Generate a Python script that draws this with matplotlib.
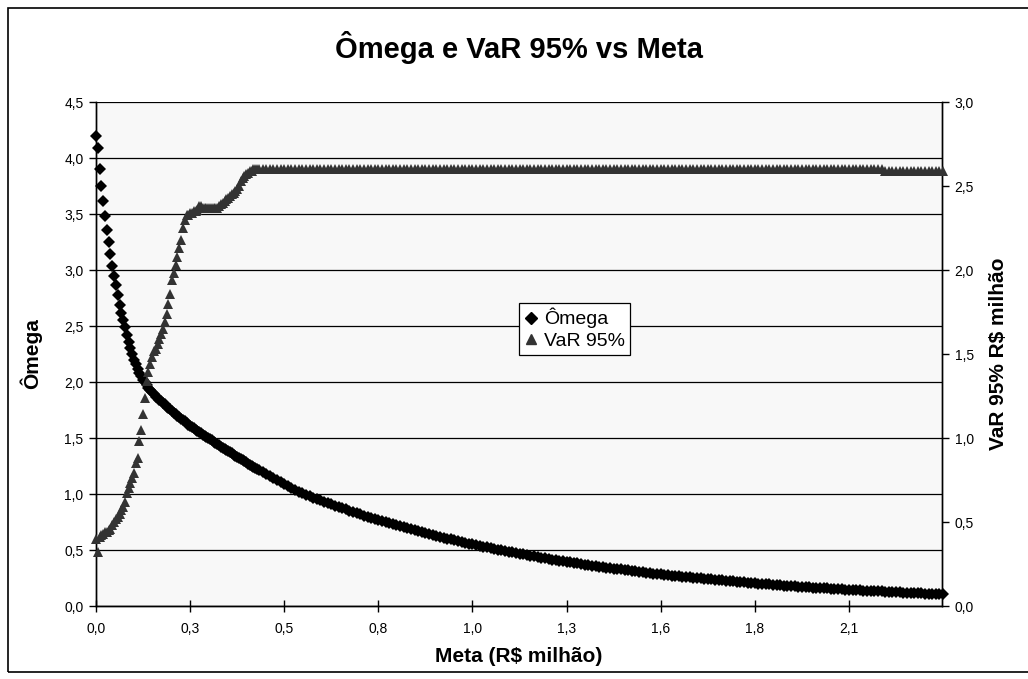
import numpy as np
import matplotlib
matplotlib.use("Agg")
import matplotlib.pyplot as plt
from matplotlib.patches import Rectangle
from matplotlib.lines import Line2D
from matplotlib.ticker import FuncFormatter

plt.rcParams["font.family"] = ["Liberation Sans", "DejaVu Sans"]

# Meta (R$ milhão): step 0.005 up to 0.445, then 0.01 up to 2.34
meta = np.round(np.concatenate([np.arange(90) * 0.005, 0.45 + np.arange(190) * 0.01]), 3)

# Omega
omega = [
    4.20, 4.09, 3.90, 3.75, 3.62, 3.48, 3.36, 3.25, 3.14, 3.04,
    2.95, 2.87, 2.78, 2.69, 2.62, 2.55, 2.49, 2.42, 2.36, 2.30,
    2.25, 2.20, 2.16, 2.12, 2.08, 2.05, 2.02, 2.00, 1.97, 1.95,
    1.93, 1.91, 1.89, 1.87, 1.86, 1.84, 1.83, 1.81, 1.80, 1.78,
    1.77, 1.755, 1.74, 1.725, 1.71, 1.70, 1.685, 1.67, 1.66, 1.65,
    1.635, 1.62, 1.61, 1.60, 1.59, 1.575, 1.565, 1.555, 1.545, 1.53,
    1.52, 1.51, 1.50, 1.49, 1.478, 1.467, 1.456, 1.445, 1.435, 1.424,
    1.414, 1.403, 1.393, 1.382, 1.372, 1.362, 1.352, 1.342, 1.332, 1.322,
    1.312, 1.302, 1.292, 1.282, 1.272, 1.263, 1.253, 1.244, 1.234, 1.225,
    # from 0.45 on, step 0.01
    1.215, 1.196, 1.178, 1.160, 1.142, 1.124, 1.106, 1.089, 1.072, 1.055,
    1.038, 1.021,
    1.005, 0.992, 0.980, 0.967, 0.955, 0.943, 0.931, 0.919, 0.907, 0.896,
    0.884, 0.873, 0.862, 0.851, 0.840, 0.829, 0.819, 0.808, 0.798, 0.788,
    0.778, 0.768, 0.758, 0.749, 0.739, 0.730, 0.721, 0.711, 0.702, 0.693,
    0.685, 0.676, 0.667, 0.659, 0.650, 0.642, 0.634, 0.626, 0.618, 0.610,
    0.602, 0.595, 0.587, 0.580, 0.572, 0.565, 0.558, 0.551, 0.544, 0.537,
    0.530, 0.523, 0.517, 0.510, 0.503, 0.497, 0.491, 0.484, 0.478, 0.472,
    0.466, 0.460, 0.454, 0.449, 0.443, 0.437, 0.432, 0.426, 0.421, 0.415,
    0.410, 0.405, 0.400, 0.395, 0.390, 0.385, 0.380, 0.375, 0.370, 0.366,
    0.361, 0.356, 0.352, 0.347, 0.343, 0.339, 0.334, 0.330, 0.326, 0.322,
    0.318, 0.314, 0.310, 0.306, 0.302, 0.298, 0.294, 0.290, 0.287, 0.283,
    0.279, 0.276, 0.272, 0.269, 0.265, 0.262, 0.259, 0.255, 0.252, 0.249,
    0.246, 0.243, 0.240, 0.237, 0.234, 0.231, 0.228, 0.225, 0.222, 0.219,
    0.216, 0.214, 0.211, 0.208, 0.206, 0.203, 0.200, 0.198, 0.195, 0.193,
    0.190, 0.188, 0.185, 0.183, 0.181, 0.179, 0.176, 0.174, 0.172, 0.170,
    0.167, 0.165, 0.163, 0.161, 0.159, 0.157, 0.155, 0.153, 0.151, 0.149,
    0.147, 0.145, 0.144, 0.142, 0.140, 0.138, 0.136, 0.135, 0.133, 0.131,
    0.130, 0.128, 0.126, 0.125, 0.123, 0.122, 0.120, 0.118, 0.117, 0.115,
    0.114, 0.113, 0.111, 0.110, 0.108, 0.107, 0.106, 0.104,
]

# VaR 95% (R$ milhão), right axis
var95_rise = [
    0.40, 0.32, 0.41, 0.42, 0.43, 0.44, 0.44, 0.45, 0.46, 0.48,
    0.50, 0.52, 0.53, 0.55, 0.57, 0.59, 0.62, 0.67, 0.70, 0.73,
    0.76, 0.79, 0.85, 0.88, 0.98, 1.05, 1.14, 1.24, 1.34, 1.39,
    1.44, 1.48, 1.52, 1.53, 1.56, 1.59, 1.62, 1.65, 1.69, 1.74,
    1.80, 1.86, 1.94, 1.98, 2.03, 2.08, 2.13, 2.18, 2.25, 2.30,
    2.33, 2.33, 2.34, 2.34, 2.35, 2.35, 2.36, 2.38, 2.38, 2.37,
    2.37, 2.37, 2.37, 2.37, 2.37, 2.37, 2.37, 2.37, 2.38, 2.39,
    2.40, 2.41, 2.42, 2.43, 2.44, 2.45, 2.46, 2.47, 2.48, 2.50,
    2.53, 2.55, 2.56, 2.57, 2.58, 2.59, 2.59, 2.60, 2.60, 2.60,
]
# plateau from 0.45 to 2.17, then a hair lower to the end
var95 = var95_rise + [2.60] * 173 + [2.59] * 17

x_tick_pos = [0.0, 0.26, 0.52, 0.78, 1.04, 1.30, 1.56, 1.82, 2.08]
x_tick_labels = ["0,0", "0,3", "0,5", "0,8", "1,0", "1,3", "1,6", "1,8", "2,1"]

W, H = 1028, 679
fig = plt.figure(figsize=(W / 100, H / 100), dpi=100, facecolor="white")

# chart area border (cut off on the right in the original)
fig.patches.append(Rectangle((8 / W, 1 - 672 / H), 1.2, (672 - 8) / H,
                             transform=fig.transFigure, fill=False,
                             edgecolor="black", linewidth=1.2))

left, right, top, bottom = 96, 942, 102, 606
ax = fig.add_axes([left / W, 1 - bottom / H, (right - left) / W, (bottom - top) / H])
ax.set_facecolor("#f8f8f8")

ax.plot(meta, omega, linestyle="none", marker="D", markersize=6.5,
        color="black", markeredgewidth=0, clip_on=False, zorder=3)
ax.set_xlim(0, 2.337)
ax.set_ylim(0, 4.5)
ax.set_yticks(np.arange(0, 4.51, 0.5))
ax.yaxis.grid(True, color="black", linewidth=0.9)
ax.set_axisbelow(True)

comma = FuncFormatter(lambda v, p: f"{v:.1f}".replace(".", ","))
ax.yaxis.set_major_formatter(comma)
ax.set_xticks(x_tick_pos)
ax.set_xticklabels(x_tick_labels)

ax2 = ax.twinx()
ax2.plot(meta, var95, linestyle="none", marker="^", markersize=6.5,
         color="#333333", markeredgewidth=0, clip_on=False, zorder=4)
ax2.set_ylim(0, 3.0)
ax2.set_yticks(np.arange(0, 3.01, 0.5))
ax2.yaxis.set_major_formatter(comma)

for a in (ax, ax2):
    a.spines["top"].set_visible(False)
    for s in ("left", "right", "bottom"):
        a.spines[s].set_color("black")
        a.spines[s].set_linewidth(1.0)
ax.tick_params(axis="y", direction="out", length=5, width=1, labelsize=10, pad=4)
ax.tick_params(axis="x", direction="inout", length=9, width=1, labelsize=10, pad=7)
ax2.tick_params(axis="y", direction="out", length=5, width=1, labelsize=10, pad=4)

fig.text((left + right) / 2 / W, 1 - 47 / H, "Ômega e VaR 95% vs Meta",
         ha="center", va="center", fontsize=21, fontweight="bold")
fig.text((left + right) / 2 / W, 1 - 657 / H, "Meta (R$ milhão)",
         ha="center", va="center", fontsize=15, fontweight="bold")
fig.text(31 / W, 1 - 354 / H, "Ômega", ha="center", va="center",
         rotation=90, fontsize=15, fontweight="bold")
fig.text(999 / W, 1 - 354 / H, "VaR 95% R$ milhão", ha="center", va="center",
         rotation=90, fontsize=15, fontweight="bold")

handles = [
    Line2D([], [], linestyle="none", marker="D", markersize=6, color="black"),
    Line2D([], [], linestyle="none", marker="^", markersize=7, color="#333333"),
]
leg = fig.legend(handles, ["Ômega", "VaR 95%"], loc="upper left",
                 bbox_to_anchor=(519 / W, 1 - 303 / H), fontsize=14,
                 frameon=True, fancybox=False, handlelength=0.7,
                 handletextpad=0.35, borderpad=0.25, labelspacing=0.2,
                 borderaxespad=0)
leg.get_frame().set_edgecolor("black")
leg.get_frame().set_linewidth(0.9)
leg.get_frame().set_facecolor("white")
leg.get_frame().set_alpha(1)

fig.savefig("out.png", dpi=100, facecolor="white")
